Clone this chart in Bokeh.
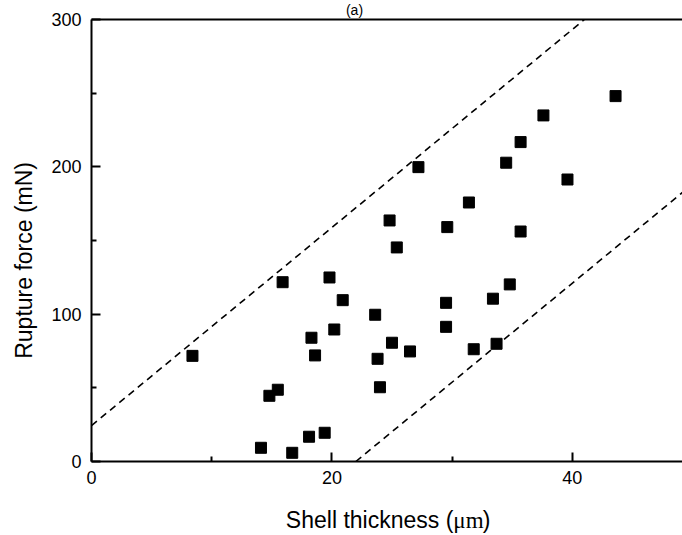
import math
from bokeh.plotting import figure
from bokeh.models import Range1d, FixedTicker
from bokeh.core.properties import value
from bokeh.embed import file_html
from bokeh.resources import INLINE

# Shell thickness (um) and rupture force (mN)
thickness = [8.4, 15.9, 19.8, 20.9, 23.6, 18.3, 20.2, 18.6, 23.8, 24.0,
             15.5, 14.8, 14.1, 16.7, 18.1, 19.4,
             43.6, 37.6, 35.7, 34.5, 39.6, 27.2, 31.4, 24.8, 29.6, 35.7,
             25.4, 34.8, 33.4, 29.5, 29.5, 25.0, 26.5, 31.8, 33.7]
force = [71.7, 121.7, 124.9, 109.5, 99.6, 84.0, 89.6, 72.0, 69.7, 50.4,
         48.7, 44.6, 9.3, 5.9, 16.8, 19.5,
         248.0, 234.9, 216.8, 202.8, 191.4, 199.8, 175.8, 163.6, 159.1, 156.1,
         145.3, 120.2, 110.5, 107.7, 91.4, 80.6, 74.7, 76.2, 79.9]

# bounding lines: force = slope * thickness + intercept
bound_slope = 6.72
upper_intercept = 24.4
lower_intercept = -147.8

x_ticks = [0, 20, 40]
y_ticks = [0, 100, 200, 300]
x_minor = [10, 30]
y_minor = [50, 150, 250]

X_MIN, X_MAX = 0, 49.17
Y_MIN, Y_MAX = 0, 300

# visible window (extra room around the data box for labels)
VIEW_X = (-7.571, X_MAX)
VIEW_Y = (-50.23, 312.9)

p = figure(width=682, height=535, output_backend="svg", toolbar_location=None,
           x_range=Range1d(*VIEW_X), y_range=Range1d(*VIEW_Y),
           min_border_left=0, min_border_right=0, min_border_top=0,
           min_border_bottom=0)
p.outline_line_color = None
p.xgrid.visible = False
p.ygrid.visible = False
p.background_fill_color = "white"
p.border_fill_color = "white"

p.xaxis.fixed_location = 0
p.yaxis.fixed_location = 0

for ax, maj, mnr in ((p.xaxis[0], x_ticks, x_minor), (p.yaxis[0], y_ticks, y_minor)):
    ax.ticker = FixedTicker(ticks=maj, minor_ticks=mnr)
    ax.axis_line_color = None
    ax.major_tick_in = 9
    ax.major_tick_out = 0
    ax.minor_tick_in = 5
    ax.minor_tick_out = 0
    ax.major_tick_line_width = 2
    ax.minor_tick_line_width = 2
    ax.major_tick_line_color = "black"
    ax.minor_tick_line_color = "black"
    ax.major_label_text_font = "Liberation Sans"
    ax.major_label_text_font_size = "18px"
    ax.major_label_text_color = "black"
    ax.major_label_standoff = 10

# box: left, bottom, top (right side is cut off by the window)
p.segment(x0=[X_MIN, X_MIN, X_MIN], y0=[Y_MIN, Y_MIN, Y_MAX],
          x1=[X_MIN, X_MAX, X_MAX], y1=[Y_MAX, Y_MIN, Y_MAX],
          line_color="black", line_width=2)

# dashed bounding lines, limited to the data box
ux = [X_MIN, (Y_MAX - upper_intercept) / bound_slope]
lx = [(Y_MIN - lower_intercept) / bound_slope, X_MAX]
p.line(ux, [bound_slope * x + upper_intercept for x in ux],
       line_color="black", line_width=1.6, line_dash="7 5")
p.line(lx, [bound_slope * x + lower_intercept for x in lx],
       line_color="black", line_width=1.6, line_dash="7 5")

p.scatter(thickness, force, marker="square", size=11, color="black")

# panel title, squeezed into the thin band above the box
p.text(x=[21.88], y=[312.2], text=["(a)"], text_align="center",
       text_baseline="top", text_font=value("Liberation Sans"),
       text_font_size="14px", text_color="black")

# axis titles
p.text(x=[-5.62], y=[136.5], text=["Rupture force (mN)"], angle=math.pi / 2,
       text_align="center", text_baseline="middle",
       text_font=value("Liberation Sans"), text_font_size="23px", text_color="black")

fs = 23
w1 = 7.28 * fs
w2 = 1.278 * fs
x_lab = 16.17
y_lab = -40
common = dict(text_align="left", text_baseline="middle",
              text_font_size="23px", text_color="black")
p.text(x=[x_lab], y=[y_lab], text=["Shell thickness ("],
       text_font=value("Liberation Sans"), **common)
p.text(x=[x_lab], y=[y_lab], x_offset=w1, text=["μm"],
       text_font=value("Liberation Serif"), **common)
p.text(x=[x_lab], y=[y_lab], x_offset=w1 + w2, text=[")"],
       text_font=value("Liberation Sans"), **common)

open("out.html", "w").write(file_html(p, INLINE))
